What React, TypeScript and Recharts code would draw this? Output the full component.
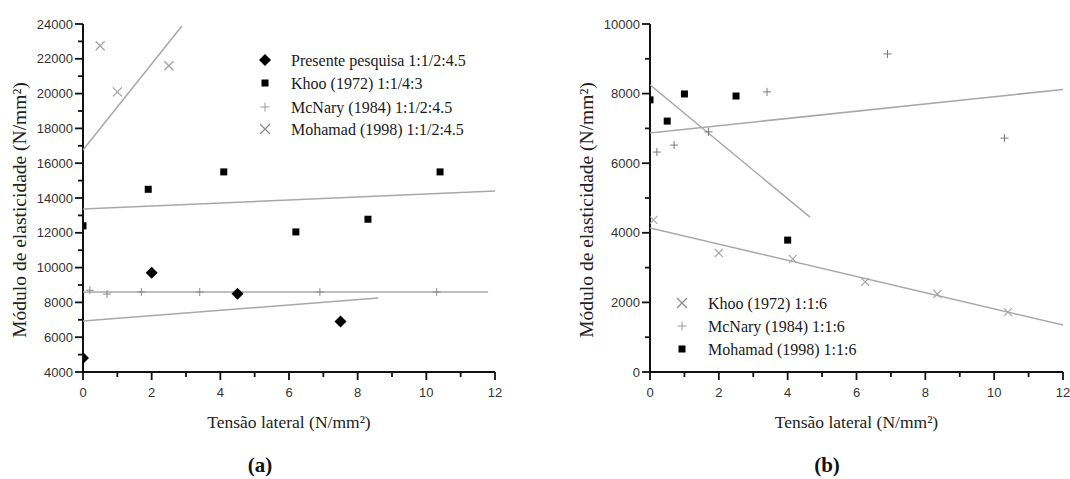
import React from "react";
import { ScatterChart, Scatter, XAxis, YAxis } from "recharts";

// ---- (a) traço 1:1/2:4.5 e Khoo 1:1/4:3 ----
const PRESENTE_X = [0, 2, 4.5, 7.5];
const PRESENTE_Y = [4800, 9700, 8500, 6900];
const KHOO_A_X = [0, 1.9, 4.1, 6.2, 8.3, 10.4];
const KHOO_A_Y = [12400, 14500, 15500, 12050, 12780, 15500];
const MCNARY_A_X = [0.2, 0.7, 1.7, 3.4, 6.9, 10.3];
const MCNARY_A_Y = [8700, 8480, 8600, 8600, 8600, 8600];
const MOHAMAD_A_X = [0.5, 1.0, 2.5];
const MOHAMAD_A_Y = [22750, 20100, 21600];

// regression lines (two end points each)
const FIT_PRESENTE_X = [0, 8.6];
const FIT_PRESENTE_Y = [6930, 8250];
const FIT_KHOO_A_X = [0, 12];
const FIT_KHOO_A_Y = [13370, 14400];
const FIT_MCNARY_A_X = [0, 11.8];
const FIT_MCNARY_A_Y = [8600, 8600];
const FIT_MOHAMAD_A_X = [0, 2.88];
const FIT_MOHAMAD_A_Y = [16760, 23890];

// ---- (b) traço 1:1:6 ----
const KHOO_B_X = [0.1, 2.0, 4.15, 6.25, 8.35, 10.4];
const KHOO_B_Y = [4370, 3420, 3250, 2590, 2240, 1720];
const MCNARY_B_X = [0.2, 0.7, 1.7, 3.4, 6.9, 10.3];
const MCNARY_B_Y = [6320, 6520, 6900, 8050, 9140, 6720];
const MOHAMAD_B_X = [0, 0.5, 1.0, 2.5, 4.0];
const MOHAMAD_B_Y = [7820, 7210, 7990, 7930, 3790];

const FIT_KHOO_B_X = [0, 12];
const FIT_KHOO_B_Y = [4140, 1350];
const FIT_MCNARY_B_X = [0, 12];
const FIT_MCNARY_B_Y = [6870, 8120];
const FIT_MOHAMAD_B_X = [0, 4.65];
const FIT_MOHAMAD_B_Y = [8250, 4450];

// axes
const X_TICKS = [0, 1, 2, 3, 4, 5, 6, 7, 8, 9, 10, 11, 12];
const Y_TICKS_A = [4000, 5000, 6000, 7000, 8000, 9000, 10000, 11000, 12000, 13000, 14000,
  15000, 16000, 17000, 18000, 19000, 20000, 21000, 22000, 23000, 24000];
const Y_TICKS_B = [0, 1000, 2000, 3000, 4000, 5000, 6000, 7000, 8000, 9000, 10000];

const LEGEND_A = [
  "Presente pesquisa 1:1/2:4.5",
  "Khoo (1972) 1:1/4:3",
  "McNary (1984) 1:1/2:4.5",
  "Mohamad (1998) 1:1/2:4.5",
];
const LEGEND_B = ["Khoo (1972) 1:1:6", "McNary (1984) 1:1:6", "Mohamad (1998) 1:1:6"];

const pts = (xs: number[], ys: number[]) => xs.map((x, i) => ({ x, y: ys[i] }));

const SERIF = '"Liberation Serif", "Times New Roman", serif';
const SANS = '"Liberation Sans", Arial, sans-serif';
const AXIS = "#111";
const FIT = "#a8a8a8";
const MINOR = 5; // native tick length, majors get extended below

// ---- marker shapes ----
const Diamond = ({ cx, cy }: any) => (
  <polygon points={`${cx},${cy - 6} ${cx + 6},${cy} ${cx},${cy + 6} ${cx - 6},${cy}`} fill="#000" />
);
const Square = ({ cx, cy }: any) => <rect x={cx - 3.5} y={cy - 3.5} width={7} height={7} fill="#000" />;
const plus = (color: string, r: number) => ({ cx, cy }: any) => (
  <path d={`M${cx - r},${cy}H${cx + r}M${cx},${cy - r}V${cy + r}`} stroke={color} strokeWidth={1} fill="none" />
);
const cross = (color: string, r: number) => ({ cx, cy }: any) => (
  <path d={`M${cx - r},${cy - r}L${cx + r},${cy + r}M${cx - r},${cy + r}L${cx + r},${cy - r}`}
    stroke={color} strokeWidth={1.2} fill="none" />
);
const NoDot = () => <g />;

// ---- tick labels on even steps, with a longer mark ----
const makeYTick = (step: number) => ({ x, y, payload }: any) => {
  if (payload.value % step !== 0) return <g />;
  return (
    <g>
      <line x1={x - 3} x2={x} y1={y} y2={y} stroke={AXIS} strokeWidth={1.8} />
      <text x={x - 5} y={y} textAnchor="end" dominantBaseline="central"
        style={{ fontFamily: SANS, fontSize: 13, fill: "#333" }}>
        {payload.value}
      </text>
    </g>
  );
};

const XTick = ({ x, y, payload }: any) => {
  if (payload.value % 2 !== 0) return <g />;
  return (
    <g>
      <line x1={x} x2={x} y1={y} y2={y + 3} stroke={AXIS} strokeWidth={1.8} />
      <text x={x} y={y + 15} textAnchor="middle" dominantBaseline="central"
        style={{ fontFamily: SANS, fontSize: 13, fill: "#333" }}>
        {payload.value}
      </text>
    </g>
  );
};

const xTitle = ({ viewBox }: any) => (
  <text x={viewBox.x + viewBox.width / 2} y={viewBox.y + 50} textAnchor="middle" dominantBaseline="central"
    style={{ fontFamily: SERIF, fontSize: 17.5, fill: "#222" }}>
    Tensão lateral (N/mm²)
  </text>
);

const yTitle = ({ viewBox }: any) => {
  const cx = viewBox.x + viewBox.width - 64;
  const cy = viewBox.y + viewBox.height / 2 + 12;
  return (
    <text x={cx} y={cy} transform={`rotate(-90 ${cx} ${cy})`} textAnchor="middle" dominantBaseline="central"
      style={{ fontFamily: SERIF, fontSize: 19.5, fill: "#222" }}>
      Módulo de elasticidade (N/mm²)
    </text>
  );
};

function Panel({ yTicks, yDomain, yWidth, width, right, children }: any) {
  const tickLine = { stroke: AXIS, strokeWidth: 1.8 };
  return (
    <ScatterChart width={width} height={479} margin={{ top: 24, right, bottom: 77, left: 0 }}>
      <XAxis type="number" dataKey="x" domain={[0, 12]} ticks={X_TICKS} interval={0} allowDataOverflow
        height={30} tickSize={MINOR} tickMargin={0} tickLine={tickLine} tick={XTick}
        axisLine={{ stroke: AXIS, strokeWidth: 2 }} label={xTitle} />
      <YAxis type="number" dataKey="y" domain={yDomain} ticks={yTicks} interval={0} allowDataOverflow
        width={yWidth} tickSize={MINOR} tickMargin={0} tickLine={tickLine} tick={makeYTick(2000)}
        axisLine={{ stroke: AXIS, strokeWidth: 2 }} label={yTitle} />
      {children}
    </ScatterChart>
  );
}

const fitLine = (xs: number[], ys: number[], key: string) => (
  <Scatter key={key} data={pts(xs, ys)} line={{ stroke: FIT, strokeWidth: 1.5 }} shape={NoDot}
    isAnimationActive={false} />
);

function LegendRow({ y, icon, label }: any) {
  return (
    <g>
      {icon}
      <text x={0} y={y} dx={26} dominantBaseline="central" style={{ fontFamily: SERIF, fontSize: 16, fill: "#1a1a1a" }}>
        {label}
      </text>
    </g>
  );
}

export default function App() {
  return (
    <div style={{ position: "absolute", left: 0, top: 0, width: 1070, height: 479, background: "#fff" }}>
      <div style={{ position: "absolute", left: 0, top: 0 }}>
        <Panel yTicks={Y_TICKS_A} yDomain={[4000, 24000]} yWidth={83} width={540} right={45}>
          {fitLine(FIT_PRESENTE_X, FIT_PRESENTE_Y, "f1")}
          {fitLine(FIT_KHOO_A_X, FIT_KHOO_A_Y, "f2")}
          {fitLine(FIT_MCNARY_A_X, FIT_MCNARY_A_Y, "f3")}
          {fitLine(FIT_MOHAMAD_A_X, FIT_MOHAMAD_A_Y, "f4")}
          <Scatter data={pts(MCNARY_A_X, MCNARY_A_Y)} shape={plus("#8a8a8a", 4)} isAnimationActive={false} />
          <Scatter data={pts(MOHAMAD_A_X, MOHAMAD_A_Y)} shape={cross("#a0a0a0", 4.5)} isAnimationActive={false} />
          <Scatter data={pts(KHOO_A_X, KHOO_A_Y)} shape={Square} isAnimationActive={false} />
          <Scatter data={pts(PRESENTE_X, PRESENTE_Y)} shape={Diamond} isAnimationActive={false} />
        </Panel>
      </div>
      <div style={{ position: "absolute", left: 560, top: 0 }}>
        <Panel yTicks={Y_TICKS_B} yDomain={[0, 10000]} yWidth={90} width={510} right={7}>
          {fitLine(FIT_KHOO_B_X, FIT_KHOO_B_Y, "g1")}
          {fitLine(FIT_MCNARY_B_X, FIT_MCNARY_B_Y, "g2")}
          {fitLine(FIT_MOHAMAD_B_X, FIT_MOHAMAD_B_Y, "g3")}
          <Scatter data={pts(KHOO_B_X, KHOO_B_Y)} shape={cross("#a8a8a8", 4)} isAnimationActive={false} />
          <Scatter data={pts(MCNARY_B_X, MCNARY_B_Y)} shape={plus("#7a7a7a", 4)} isAnimationActive={false} />
          <Scatter data={pts(MOHAMAD_B_X, MOHAMAD_B_Y)} shape={Square} isAnimationActive={false} />
        </Panel>
      </div>
      {/* legends and panel captions */}
      <svg width={1070} height={479} style={{ position: "absolute", left: 0, top: 0, pointerEvents: "none" }}>
        <g transform="translate(265,0)">
          <LegendRow y={60} label={LEGEND_A[0]} icon={Diamond({ cx: 0, cy: 60 })} />
          <LegendRow y={83} label={LEGEND_A[1]} icon={Square({ cx: 0, cy: 83 })} />
          <LegendRow y={107} label={LEGEND_A[2]} icon={plus("#999", 4.5)({ cx: 0, cy: 107 })} />
          <LegendRow y={129} label={LEGEND_A[3]} icon={cross("#888", 5)({ cx: 0, cy: 129 })} />
        </g>
        <g transform="translate(682,0)">
          <LegendRow y={303} label={LEGEND_B[0]} icon={cross("#888", 5)({ cx: 0, cy: 303 })} />
          <LegendRow y={326} label={LEGEND_B[1]} icon={plus("#999", 4.5)({ cx: 0, cy: 326 })} />
          <LegendRow y={349} label={LEGEND_B[2]} icon={Square({ cx: 0, cy: 349 })} />
        </g>
        <text x={260} y={465} textAnchor="middle" dominantBaseline="central"
          style={{ fontFamily: SERIF, fontSize: 21, fontWeight: 700, fill: "#111" }}>(a)</text>
        <text x={827} y={465} textAnchor="middle" dominantBaseline="central"
          style={{ fontFamily: SERIF, fontSize: 21, fontWeight: 700, fill: "#111" }}>(b)</text>
      </svg>
    </div>
  );
}
